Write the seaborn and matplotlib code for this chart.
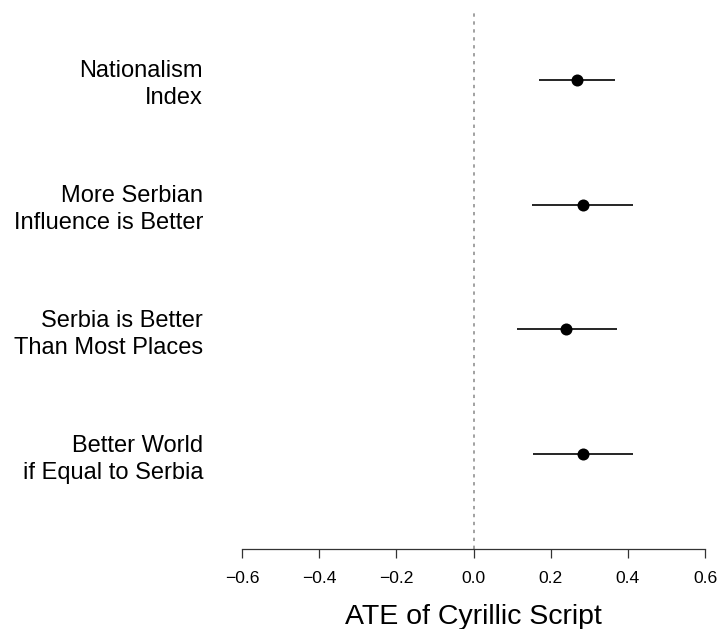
import matplotlib
matplotlib.use("Agg")
import matplotlib.pyplot as plt
import matplotlib.transforms as mtransforms
import seaborn as sns
import pandas as pd

sns.set_theme(style="white")
plt.rcParams['font.family'] = ['Liberation Sans', 'DejaVu Sans']
plt.rcParams['text.color'] = 'black'
plt.rcParams['axes.labelcolor'] = 'black'
plt.rcParams['xtick.color'] = 'black'
plt.rcParams['ytick.color'] = 'black'

outcomes = ["Nationalism\nIndex",
            "More Serbian\nInfluence is Better",
            "Serbia is Better\nThan Most Places",
            "Better World\nif Equal to Serbia"]
ate = [0.269, 0.283, 0.241, 0.283]
ci_low = [0.171, 0.151, 0.112, 0.153]
ci_high = [0.367, 0.413, 0.371, 0.413]
xticks = [-0.6, -0.4, -0.2, 0.0, 0.2, 0.4, 0.6]

df = pd.DataFrame({"outcome": outcomes, "ate": ate, "lo": ci_low, "hi": ci_high,
                   "pos": list(range(len(outcomes)))})

fig = plt.figure(figsize=(7.21, 6.29), dpi=100)
ax = fig.add_axes([242/721, (629-549)/629, (705-242)/721, (549-10)/629])

ax.axvline(0, color="#888888", lw=1.1, linestyle=(0, (2.2, 3.0)), zorder=1)
ax.hlines(df["pos"], df["lo"], df["hi"], color="black", lw=1.2, zorder=2)
sns.scatterplot(data=df, x="ate", y="pos", ax=ax, color="black", s=75,
                edgecolor="black", linewidth=0, zorder=3, legend=False)

ax.set_xlim(-0.6, 0.6)
ax.set_ylim(3.76, -0.56)
ax.set_xticks(xticks)
ax.set_xticklabels([f"{v:.1f}".replace("-", "\u2212") for v in xticks])
ax.set_yticks(df["pos"])
ax.set_yticklabels(outcomes)
shift = mtransforms.ScaledTranslation(0, 2/100, fig.dpi_scale_trans)
for lab in ax.get_yticklabels():
    lab.set_linespacing(1.3)
    lab.set_color("black")
    lab.set_transform(lab.get_transform() + shift)
ax.tick_params(axis="y", length=0, pad=28, labelsize=17)
ax.tick_params(axis="x", length=6.5, width=0.9, color="#333333", pad=9, labelsize=12.6,
               bottom=True, labelcolor="black")
ax.set_xlabel("ATE of Cyrillic Script", fontsize=20.5, labelpad=13, color="black")
ax.set_ylabel("")

for s in ["top", "right", "left"]:
    ax.spines[s].set_visible(False)
ax.spines["bottom"].set_color("#333333")
ax.spines["bottom"].set_linewidth(0.9)
ax.grid(False)

fig.savefig("out.png", dpi=100)
